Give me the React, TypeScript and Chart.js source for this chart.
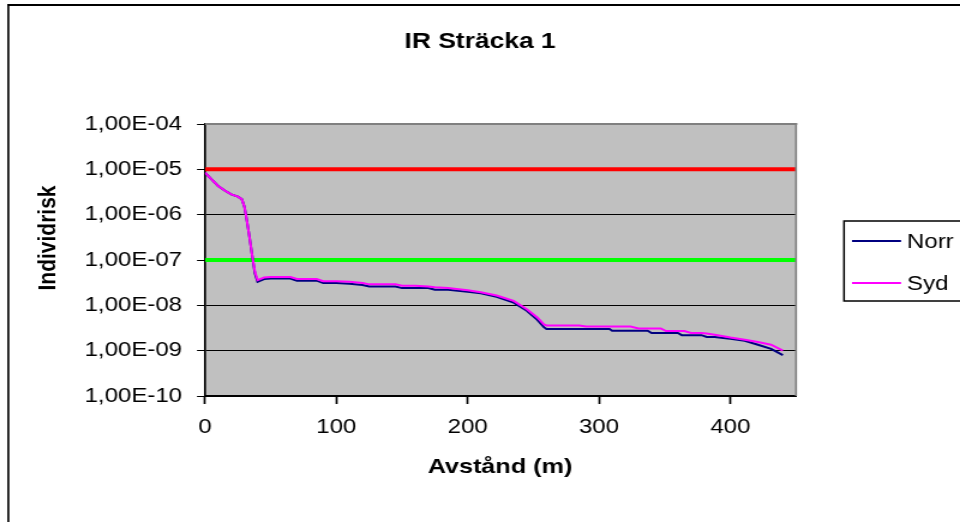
import React, { useEffect, useRef } from "react";
import { Chart, registerables } from "chart.js";

Chart.register(...registerables);

// ---------- data ----------
const chartTitle = "IR Sträcka 1";
const xTitle = "Avstånd (m)";
const yTitle = "Individrisk";
const seriesNames = ["Norr", "Syd"];

const distance = [
  0, 5, 10, 15, 20, 25, 28, 30, 32, 34, 36, 38, 40, 45, 50, 60, 65, 70, 80, 85,
  90, 100, 110, 120, 125, 135, 145, 150, 160, 170, 175, 185, 200, 210, 222, 235,
  245, 253, 258, 260, 270, 285, 290, 300, 308, 310, 324, 330, 337, 340, 347, 351,
  360, 363, 365, 370, 378, 382, 388, 398, 400, 411, 421, 431, 440,
];

const syd = [
  8.5e-6, 6.0e-6, 4.3e-6, 3.4e-6, 2.8e-6, 2.5e-6, 2.2e-6, 1.5e-6, 7e-7, 3e-7,
  1.2e-7, 5.5e-8, 3.6e-8, 4.1e-8, 4.2e-8, 4.2e-8, 4.2e-8, 3.8e-8, 3.8e-8, 3.8e-8,
  3.4e-8, 3.4e-8, 3.3e-8, 3.1e-8, 2.9e-8, 2.9e-8, 2.9e-8, 2.7e-8, 2.7e-8, 2.6e-8,
  2.5e-8, 2.4e-8, 2.15e-8, 1.95e-8, 1.65e-8, 1.25e-8, 8.2e-9, 5.4e-9, 3.8e-9,
  3.6e-9, 3.6e-9, 3.6e-9, 3.4e-9, 3.4e-9, 3.4e-9, 3.4e-9, 3.4e-9, 3.1e-9, 3.1e-9,
  3.1e-9, 3.1e-9, 2.7e-9, 2.7e-9, 2.7e-9, 2.7e-9, 2.45e-9, 2.45e-9, 2.4e-9,
  2.25e-9, 2.0e-9, 1.95e-9, 1.75e-9, 1.55e-9, 1.35e-9, 1.0e-9,
];

const norr = [
  8.5e-6, 6.0e-6, 4.3e-6, 3.4e-6, 2.8e-6, 2.5e-6, 2.2e-6, 1.5e-6, 7e-7, 3e-7,
  1.2e-7, 5.0e-8, 3.3e-8, 3.8e-8, 3.9e-8, 3.9e-8, 3.9e-8, 3.5e-8, 3.5e-8, 3.5e-8,
  3.1e-8, 3.1e-8, 3.0e-8, 2.8e-8, 2.6e-8, 2.6e-8, 2.6e-8, 2.4e-8, 2.4e-8, 2.4e-8,
  2.2e-8, 2.2e-8, 2.0e-8, 1.85e-8, 1.55e-8, 1.15e-8, 7.6e-9, 4.8e-9, 3.3e-9,
  3.0e-9, 3.0e-9, 3.0e-9, 3.0e-9, 3.0e-9, 3.0e-9, 2.75e-9, 2.75e-9, 2.75e-9,
  2.75e-9, 2.45e-9, 2.45e-9, 2.45e-9, 2.45e-9, 2.2e-9, 2.2e-9, 2.2e-9, 2.2e-9,
  2.0e-9, 2.0e-9, 1.85e-9, 1.83e-9, 1.65e-9, 1.35e-9, 1.1e-9, 8.0e-10,
];

const limitX = [0, 450];
const upperLimit = 1e-5;
const lowerLimit = 1e-7;

const xTicks = [0, 100, 200, 300, 400];
const xTickLabels = ["0", "100", "200", "300", "400"];
const yTicks = [1e-10, 1e-9, 1e-8, 1e-7, 1e-6, 1e-5, 1e-4];
const yTickLabels = [
  "1,00E-10", "1,00E-09", "1,00E-08", "1,00E-07", "1,00E-06", "1,00E-05", "1,00E-04",
];

// ---------- layout (screen px, stretched horizontally) ----------
const S = 1.2;
const W = 960 / S;
const H = 522;
const FONT = '"Liberation Sans", Arial, sans-serif';

const PLOT_L = 205;
const PLOT_R = 796;
const PLOT_T = 124;
const PLOT_B = 396;

const decor = {
  id: "decor",
  beforeDraw(chart: any) {
    const { ctx, chartArea: a } = chart;
    ctx.save();
    ctx.fillStyle = "#ffffff";
    ctx.fillRect(0, 0, W, H);
    ctx.fillStyle = "#c0c0c0";
    ctx.fillRect(a.left, a.top, a.right - a.left, a.bottom - a.top);
    ctx.restore();
  },
  afterDraw(chart: any) {
    const { ctx, chartArea: a } = chart;
    ctx.save();
    // plot area border (top/right)
    ctx.fillStyle = "#808080";
    ctx.fillRect(a.left, a.top - 1, a.right - a.left + 1, 2);
    ctx.fillRect(a.right - 1 / S, a.top - 1, 2 / S, a.bottom - a.top + 1);

    // outer chart border
    ctx.fillStyle = "#000000";
    ctx.fillRect(7.3 / S, 4, W, 2);
    ctx.fillRect(7.3 / S, 4, 2 / S, H);

    // title
    ctx.fillStyle = "#000";
    ctx.textAlign = "center";
    ctx.textBaseline = "middle";
    ctx.font = `bold 22px ${FONT}`;
    ctx.fillText(chartTitle, 480 / S, 42);

    // axis titles
    ctx.font = `bold 21px ${FONT}`;
    ctx.fillText(xTitle, 500 / S, 467);
    ctx.save();
    ctx.translate(48 / S, 238);
    ctx.rotate(-Math.PI / 2);
    ctx.fillText(yTitle, 0, 0);
    ctx.restore();

    // legend
    const lx = 844 / S;
    ctx.strokeStyle = "#000";
    ctx.lineWidth = 1.5;
    ctx.strokeRect(lx, 221, W, 80);
    const rows = [
      { name: seriesNames[0], color: "#000080", y: 241 },
      { name: seriesNames[1], color: "#ff00ff", y: 283 },
    ];
    ctx.font = `20px ${FONT}`;
    ctx.textAlign = "left";
    for (const r of rows) {
      ctx.strokeStyle = r.color;
      ctx.lineWidth = 2;
      ctx.beginPath();
      ctx.moveTo(852 / S, r.y);
      ctx.lineTo(901 / S, r.y);
      ctx.stroke();
      ctx.fillStyle = "#000";
      ctx.fillText(r.name, 907 / S, r.y + 1);
    }
    ctx.restore();
  },
};

export default function App() {
  const ref = useRef<HTMLCanvasElement | null>(null);

  useEffect(() => {
    document.body.style.margin = "0";
    const canvas = ref.current;
    if (!canvas) return;
    const pts = (ys: number[]) => distance.map((d, i) => ({ x: d, y: ys[i] }));
    const chart = new Chart(canvas, {
      type: "line",
      data: {
        datasets: [
          {
            label: seriesNames[1],
            data: pts(syd),
            borderColor: "#ff00ff",
            borderWidth: 2,
            pointRadius: 0,
            tension: 0,
          },
          {
            label: seriesNames[0],
            data: pts(norr),
            borderColor: "#000080",
            borderWidth: 2,
            pointRadius: 0,
            tension: 0,
          },
          {
            label: "upper",
            data: limitX.map((x) => ({ x, y: upperLimit })),
            borderColor: "#ff0000",
            borderWidth: 4,
            pointRadius: 0,
          },
          {
            label: "lower",
            data: limitX.map((x) => ({ x, y: lowerLimit })),
            borderColor: "#00ff00",
            borderWidth: 4,
            pointRadius: 0,
          },
        ],
      },
      options: {
        animation: false,
        responsive: false,
        devicePixelRatio: 1,
        events: [],
        layout: {
          padding: { left: 0, right: W - PLOT_R / S, top: PLOT_T, bottom: 0 },
        },
        plugins: {
          legend: { display: false },
          title: { display: false },
          tooltip: { enabled: false },
        },
        scales: {
          x: {
            type: "linear",
            min: 0,
            max: 450,
            afterFit: (scale: any) => {
              scale.height = H - PLOT_B;
            },
            afterBuildTicks: (scale: any) => {
              scale.ticks = xTicks.map((v) => ({ value: v }));
            },
            ticks: {
              color: "#000",
              font: { family: FONT, size: 20 },
              padding: 11,
              maxRotation: 0,
              callback: (v: any) => {
                const i = xTicks.indexOf(Number(v));
                return i >= 0 ? xTickLabels[i] : "";
              },
            },
            grid: {
              drawOnChartArea: false,
              drawTicks: true,
              tickLength: 8,
              tickColor: "#000",
              tickWidth: 1.7,
              color: "#000",
            },
            border: { display: true, color: "#000", width: 2 },
          },
          y: {
            type: "logarithmic",
            min: 1e-10,
            max: 1e-4,
            afterFit: (scale: any) => {
              scale.width = PLOT_L / S;
            },
            afterBuildTicks: (scale: any) => {
              scale.ticks = yTicks.map((v) => ({ value: v }));
            },
            ticks: {
              color: "#000",
              font: { family: FONT, size: 20 },
              padding: 12.5,
              autoSkip: false,
              callback: (v: any) => {
                const i = yTicks.findIndex((t) => Math.abs(t - Number(v)) / t < 1e-6);
                return i >= 0 ? yTickLabels[i] : "";
              },
            },
            grid: {
              drawOnChartArea: true,
              drawTicks: true,
              tickLength: 8 / S,
              tickColor: "#000",
              color: "#000",
              lineWidth: 1,
            },
            border: { display: true, color: "#000", width: 2 / S },
          },
        },
      },
      plugins: [decor],
    });
    return () => chart.destroy();
  }, []);

  return (
    <div style={{ width: 960, height: H, overflow: "hidden", position: "relative", background: "#fff" }}>
      <div style={{ width: W, height: H, transform: `scaleX(${S})`, transformOrigin: "0 0" }}>
        <canvas ref={ref} width={W} height={H} style={{ display: "block", width: W, height: H }} />
      </div>
    </div>
  );
}
